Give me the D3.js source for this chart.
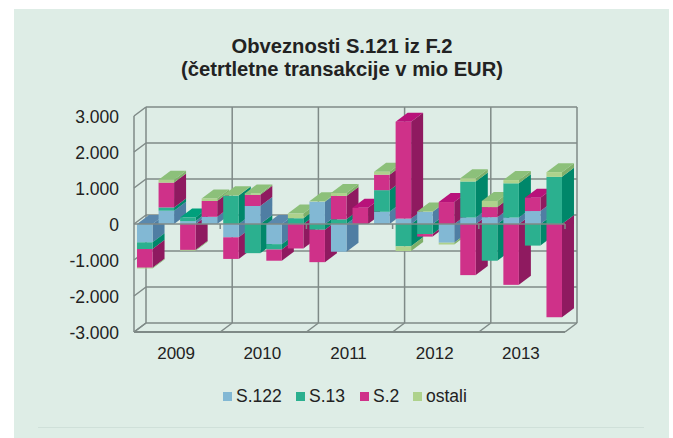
<!DOCTYPE html>
<html>
<head>
<meta charset="utf-8">
<script src="https://cdn.jsdelivr.net/npm/d3@7"></script>
<style>
    html, body { margin: 0; padding: 0; background: #fff; }
    svg { display: block; }
    text { font-family: "Liberation Sans", Arial, sans-serif; fill: #222; }
</style>
</head>
<body>
<svg id="svg"></svg>
<script>
// values, mio EUR, one per quarter 2009-2013
const years = ["2009", "2010", "2011", "2012", "2013"];
const quarters = d3.range(20);
const yTicks = [-3000, -2000, -1000, 0, 1000, 2000, 3000];

const s122 = [-510, 370, 80, 200, -370, 500, -560, 0, 620, -770, 0, 340, 150, 340, -520, 180, 190, 180, 360, 0];
const s13 = [-185, 90, 100, 0, 790, -810, -150, 160, -160, 130, 0, 600, -620, -280, 0, 1000, -1020, 950, -600, 1310];
const s2 = [-520, 690, -720, 440, -600, 310, -310, -680, -900, 650, 450, 430, 2690, -70, 610, -1420, 280, -1690, 370, -2590];
const ostali = [-20, 80, -20, 70, 10, 40, 0, 130, 10, 80, 0, 80, -130, 10, -50, 90, 170, 90, 0, 130];

const seriesNames = ["S.122", "S.13", "S.2", "ostali"];
const seriesValues = [s122, s13, s2, ostali];

const frontColours = ["#82b8d4", "#2bb08f", "#cf3189", "#aed28c"];
const sideColours = ["#4f7ea3", "#00876a", "#8f1a60", "#7fb06a"];
const topColours = ["#5a88ad", "#00a07c", "#b8127a", "#8cc07a"];

const width = 673;
const height = 438;
const depthX = 12;
const depthY = -9;
const gridColour = "#7f8a87";

let svg = d3.select("#svg").attr("width", width).attr("height", height);

// panel behind everything
svg.append("rect")
    .attr("x", 14).attr("y", 9)
    .attr("width", 655).attr("height", 429)
    .attr("fill", "#deede6");
svg.append("line")
    .attr("x1", 38).attr("x2", 644)
    .attr("y1", 427.5).attr("y2", 427.5)
    .attr("stroke", "#cfe0d9");

// title
svg.append("text")
    .attr("x", 342).attr("y", 53)
    .attr("text-anchor", "middle")
    .style("font-size", "20.2px").style("font-weight", "bold")
    .text("Obveznosti S.121 iz F.2");
svg.append("text")
    .attr("x", 342).attr("y", 76)
    .attr("text-anchor", "middle")
    .style("font-size", "20.2px").style("font-weight", "bold")
    .text("(četrtletne transakcije v mio EUR)");

// scales
let yScale = d3.scaleLinear().domain([-3000, 3000]).range([332, 116]);
let xYear = d3.scaleBand().domain(years).range([134, 565]);
let xScale = d3.scaleBand().domain(quarters).range([134, 565]).paddingInner(0.28).paddingOuter(0.14);

let left = 134, right = 565;

// back wall and left wall
let grid = svg.append("g")
    .attr("fill", "none")
    .attr("stroke", gridColour)
    .attr("stroke-width", 1.5);

yTicks.forEach(t => {
    let y = yScale(t);
    grid.append("line").attr("x1", left + depthX).attr("x2", right + depthX)
        .attr("y1", y + depthY).attr("y2", y + depthY);
    grid.append("line").attr("x1", left).attr("x2", left + depthX)
        .attr("y1", y).attr("y2", y + depthY);
});

let yearEdges = years.map(d => xYear(d)).concat([right]);
yearEdges.forEach(x => {
    grid.append("line").attr("x1", x + depthX).attr("x2", x + depthX)
        .attr("y1", yScale(3000) + depthY).attr("y2", yScale(-3000) + depthY);
    grid.append("line").attr("x1", x).attr("x2", x + depthX)
        .attr("y1", yScale(-3000)).attr("y2", yScale(-3000) + depthY);
});
grid.append("line").attr("x1", left).attr("x2", left)
    .attr("y1", yScale(3000)).attr("y2", yScale(-3000));
grid.append("line").attr("x1", left).attr("x2", right)
    .attr("y1", yScale(-3000)).attr("y2", yScale(-3000))
    .attr("stroke-width", 2);

// bars, left to right so the next bar hides the side of the one before
let bars = svg.append("g");

function drawSegment(x, w, v0, v1, i, withTop) {
    let yTop = yScale(Math.max(v0, v1));
    let yBottom = yScale(Math.min(v0, v1));
    let side = [[x + w, yTop], [x + w + depthX, yTop + depthY], [x + w + depthX, yBottom + depthY], [x + w, yBottom]];
    bars.append("polygon").attr("points", side.join(" ")).attr("fill", sideColours[i]);
    if (withTop) {
        let lid = [[x, yTop], [x + depthX, yTop + depthY], [x + w + depthX, yTop + depthY], [x + w, yTop]];
        bars.append("polygon").attr("points", lid.join(" ")).attr("fill", topColours[i]);
    }
    bars.append("rect")
        .attr("x", x).attr("y", yTop)
        .attr("width", w).attr("height", yBottom - yTop)
        .attr("fill", frontColours[i]);
}

quarters.forEach(q => {
    let x = xScale(q);
    let w = xScale.bandwidth();
    let values = seriesValues.map(s => s[q]);
    let hasPositive = values.some(v => v > 0);

    // below zero first
    let base = 0;
    let firstNegative = true;
    values.forEach((v, i) => {
        if (v < 0) {
            drawSegment(x, w, base, base + v, i, firstNegative && !hasPositive);
            base += v;
            firstNegative = false;
        }
    });

    // then above zero, only the last one shows its top
    let lastPositive = values.map(v => v > 0).lastIndexOf(true);
    base = 0;
    values.forEach((v, i) => {
        if (v > 0) {
            drawSegment(x, w, base, base + v, i, i === lastPositive);
            base += v;
        }
    });
});

// zero line in front of the bars, with its small ticks
let front = svg.append("g").attr("stroke", gridColour).attr("stroke-width", 1.5);
front.append("line").attr("x1", left).attr("x2", right)
    .attr("y1", yScale(0)).attr("y2", yScale(0));
yearEdges.slice(1).forEach(x => {
    front.append("line").attr("x1", x).attr("x2", x)
        .attr("y1", yScale(0)).attr("y2", yScale(0) + 5);
});

// axes, labels only
let yAxis = svg.append("g")
    .attr("transform", "translate(128,1)")
    .call(d3.axisLeft(yScale).tickValues(yTicks).tickSize(0).tickPadding(9)
        .tickFormat(d => d === 0 ? "0" : d3.format(",")(d).replace(",", ".").replace("−", "-")));
yAxis.select(".domain").remove();
yAxis.selectAll("text").style("font-size", "17.5px");

let xAxis = svg.append("g")
    .attr("transform", "translate(-1,347)")
    .call(d3.axisBottom(xYear).tickSize(0).tickPadding(0));
xAxis.select(".domain").remove();
xAxis.selectAll("text").style("font-size", "17px");

// legend
let legendX = [223, 296, 360, 413];
let legend = svg.append("g");
seriesNames.forEach((name, i) => {
    legend.append("rect")
        .attr("x", legendX[i]).attr("y", 392)
        .attr("width", 9).attr("height", 9)
        .attr("fill", frontColours[i]);
    legend.append("text")
        .attr("x", legendX[i] + 13).attr("y", 402)
        .style("font-size", "17.5px")
        .text(name);
});
</script>
</body>
</html>
